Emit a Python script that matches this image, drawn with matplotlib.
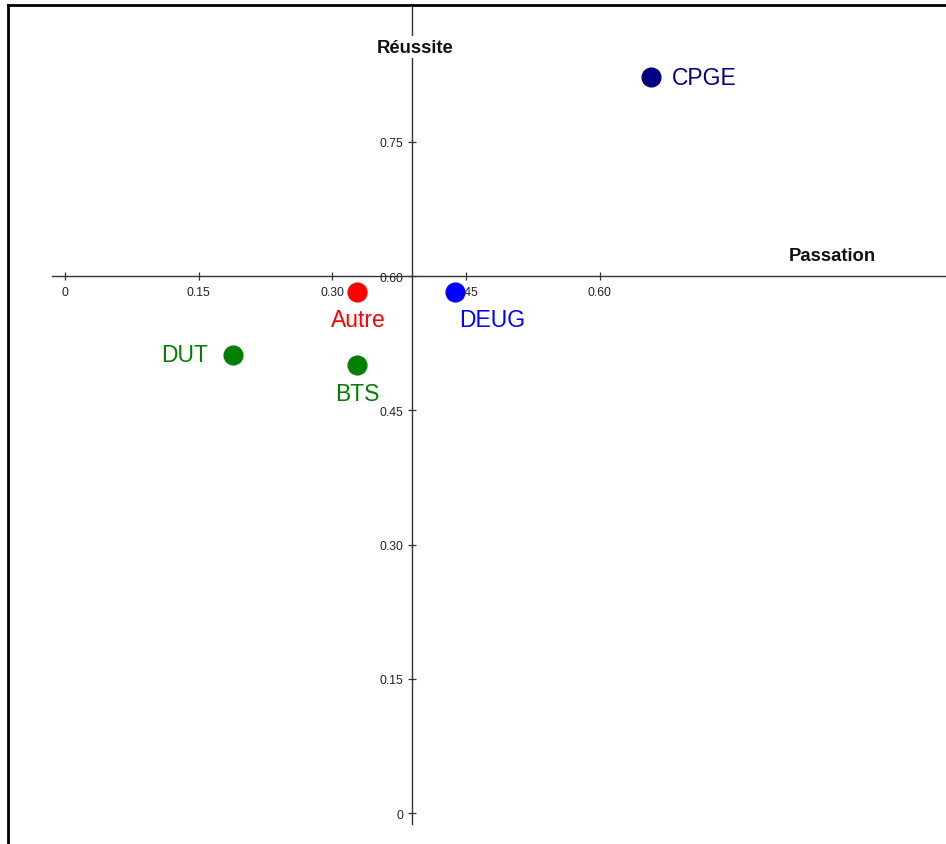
import matplotlib
matplotlib.use('Agg')
import matplotlib.pyplot as plt
from matplotlib.lines import Line2D

# data
labels = ['CPGE', 'DEUG', 'Autre', 'DUT', 'BTS']
passation = [0.658, 0.438, 0.328, 0.189, 0.328]
reussite = [0.822, 0.582, 0.582, 0.512, 0.501]
colors = ['#000080', '#0000ff', '#ff0000', '#008000', '#008000']

x_ticks = [0, 0.15, 0.30, 0.45, 0.60]
x_ticklabels = ['0', '0.15', '0.30', '0.45', '0.60']
y_ticks = [0, 0.15, 0.30, 0.45, 0.60, 0.75]
y_ticklabels = ['0', '0.15', '0.30', '0.45', '0.60', '0.75']
x_cross = 0.39   # where the vertical axis sits
y_cross = 0.60   # where the horizontal axis sits

# label placement (offset in points, ha, va)
label_pos = {
    'CPGE': ((15, 0), 'left', 'center'),
    'DEUG': ((3, -19.5), 'left', 'center'),
    'Autre': ((1, -19.5), 'center', 'center'),
    'DUT': ((-18.5, 0), 'right', 'center'),
    'BTS': ((0, -21), 'center', 'center'),
}

plt.rcParams['font.family'] = ['Liberation Sans', 'DejaVu Sans']

fig = plt.figure(figsize=(9.46, 8.45), dpi=100)
ax = fig.add_axes([0, 0, 1, 1])
ax.set_xlim(-0.07295, 0.98878)
ax.set_ylim(-0.0346, 0.9095)

for sp in ['top', 'right']:
    ax.spines[sp].set_visible(False)
ax.spines['left'].set_position(('data', x_cross))
ax.spines['bottom'].set_position(('data', y_cross))
ax.spines['left'].set_bounds(-0.0123, 0.9006)
ax.spines['bottom'].set_bounds(-0.0146, 0.98878)
for sp in ['left', 'bottom']:
    ax.spines[sp].set_color('#333333')
    ax.spines[sp].set_linewidth(1.0)

ax.set_xticks(x_ticks)
ax.set_xticklabels(x_ticklabels)
ax.set_yticks(y_ticks)
ax.set_yticklabels(y_ticklabels)
ax.tick_params(axis='both', direction='inout', length=6, width=0.9,
               color='#333333', labelsize=8.8, labelcolor='#222222')
ax.tick_params(axis='x', pad=4)
ax.tick_params(axis='y', pad=3.5)
ax.patch.set_alpha(0)

for name, x, y, c in zip(labels, passation, reussite, colors):
    ax.plot(x, y, 'o', ms=13.5, color=c, zorder=5)
    off, ha, va = label_pos[name]
    ax.annotate(name, (x, y), xytext=off, textcoords='offset points',
                ha=ha, va=va, color=c, fontsize=16.5)

ax.text(0.3928, 0.9095 - 48 / 895, 'Réussite', ha='center', va='center',
        fontsize=13.3, fontweight='bold', color='#111111',
        bbox=dict(facecolor='white', edgecolor='none', pad=2), zorder=6)
ax.text(0.861, 0.60 + 21 / 895, 'Passation', ha='center', va='center',
        fontsize=13.3, fontweight='bold', color='#111111')

# frame on left and top
fig.add_artist(Line2D([8 / 946, 8 / 946], [0, 1 - 6 / 845],
                      transform=fig.transFigure, color='black', lw=2))
fig.add_artist(Line2D([8 / 946, 1], [1 - 6 / 845, 1 - 6 / 845],
                      transform=fig.transFigure, color='black', lw=2))

fig.savefig('out.png', dpi=100, facecolor='white')
